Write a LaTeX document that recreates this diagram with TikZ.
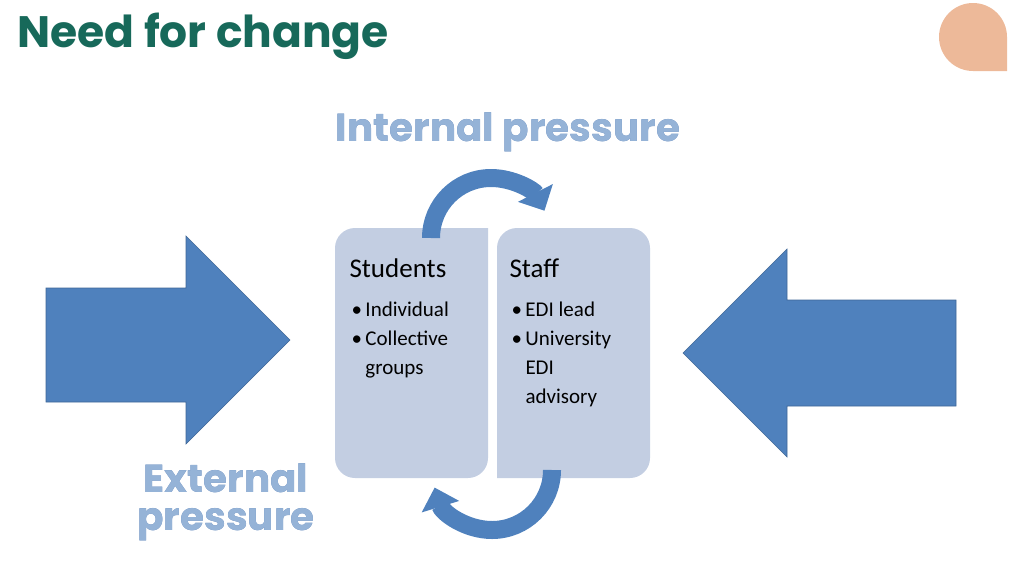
\documentclass[tikz,border=0pt]{standalone}
\usepackage{fontspec}
\usepackage[outline]{contour}
\contourlength{0.9pt}
\setmainfont{Carlito}
\newfontfamily\titlefont{Poppins}
\usetikzlibrary{arrows.meta}
\definecolor{teal}{HTML}{17695A}
\definecolor{ablue}{HTML}{4F81BD}
\definecolor{boxc}{HTML}{C3CEE2}
\definecolor{wa}{HTML}{95B3D7}
\definecolor{waline}{HTML}{5A7FB5}
\definecolor{peach}{HTML}{EDB999}
\tikzset{
 bigarrow/.style={fill=ablue,draw=ablue!80!black,line width=0.6pt},
 panel/.style={fill=boxc},
 wordart/.style={font=\titlefont\bfseries\fontsize{39}{44}\selectfont,text=wa,align=center},
 head/.style={font=\fontsize{27}{32}\selectfont,anchor=west},
 item/.style={font=\fontsize{21}{29}\selectfont,anchor=north west,align=left},
 curved/.style={draw=ablue,line width=18pt,-{Triangle[width=38pt,length=20pt]}}
}
\begin{document}
\begin{tikzpicture}[x=1pt,y=-1pt]
\useasboundingbox (0,0) rectangle (1024,576);
% title
\node[anchor=west,font=\titlefont\bfseries\fontsize{44}{50}\selectfont,text=teal] (title) at (14,36) {Need for change};
% teardrop
\fill[peach] (1007,71) -- (973,71) arc[start angle=90,end angle=360,radius=34] -- cycle;
% panels
\path[panel,rounded corners=20pt] (488,228) -- (335,228) -- (335,478) -- (488,478) [sharp corners] -- cycle;
\path[panel,rounded corners=20pt] (497,478) -- (650,478) -- (650,228) -- (497,228) [sharp corners] -- cycle;
\node[head] (stu) at (346,268) {Students};
\node[head] (sta) at (506,268) {Staff};
\node[item] (l1) at (348,298) {\textbullet\,Individual\\\textbullet\,Collective\\\hphantom{\textbullet\,}groups};
\node[item] (l2) at (508,298) {\textbullet\,EDI lead\\\textbullet\,University\\\hphantom{\textbullet\,}EDI\\\hphantom{\textbullet\,}advisory};
% big arrows
\draw[bigarrow] (46,288) -- (186,288) -- (186,236) -- (290,340) -- (186,444) -- (186,402) -- (46,402) -- cycle;
\draw[bigarrow] (956,300) -- (787,300) -- (787,249) -- (683,353) -- (787,457) -- (787,406) -- (956,406) -- cycle;
% curved arrows
\coordinate (ts) at (431,238);
\draw[curved] (ts) arc[start angle=180,end angle=333,radius=60];
\coordinate (bs) at (552,470);
\draw[curved] (bs) arc[start angle=0,end angle=163,radius=60];
% word art
\node[wordart] (int) at (508,132) {\contour{waline}{Internal pressure}};
\node[wordart] (ext) at (226,502) {\contour{waline}{External}\\[-6pt]\contour{waline}{pressure}};
\end{tikzpicture}
\end{document}
